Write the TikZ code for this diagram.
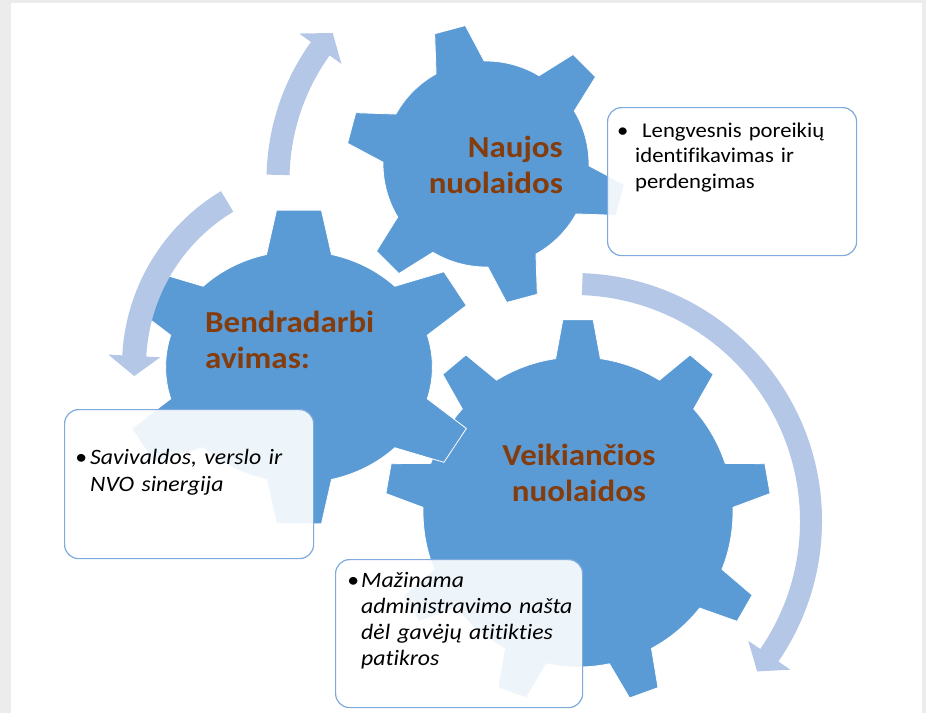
\documentclass[tikz,border=0pt]{standalone}
\usepackage{fontspec}
\setmainfont{Carlito}[FakeStretch=1.08, Ligatures=CommonOff]

\definecolor{gearblue}{HTML}{5B9BD5}
\definecolor{arrowblue}{HTML}{B4C7E7}
\definecolor{labelbrown}{HTML}{843C0C}
\definecolor{boxline}{HTML}{7FAADD}
\definecolor{pagegray}{HTML}{ECECEC}

\tikzset{
  gear/.style={fill=gearblue, draw=white, line width=0.8pt},
  turnarrow/.style={fill=arrowblue},
  infobox/.style={draw=boxline, line width=1.2pt, fill=white, fill opacity=0.9,
    rounded corners=14pt, anchor=north west, inner sep=0pt},
  gearlabel/.style={text=labelbrown, font=\fontsize{30.5}{36.5}\selectfont\bfseries,
    inner sep=0pt, text width=200pt},
  boxtext/.style={inner sep=0pt, text width=230pt, align=left, anchor=base west}
}

% [#1 extra options] #2 centre, #3 teeth, #4 inner r, #5 outer r, #6 first tooth, #7 base half angle, #8 tip half angle
\newcommand{\drawgear}[8][]{%
  \fill[gear, shift={#2}, #1] ({#6+#7}:#4pt)
    \foreach \k in {1,...,#3} {
      arc[start angle={#6+#7+360/#3*(\k-1)}, end angle={#6-#7+360/#3*\k}, radius=#4pt]
      -- ({#6-#8+360/#3*\k}:#5pt) -- ({#6+#8+360/#3*\k}:#5pt) -- ({#6+#7+360/#3*\k}:#4pt)
    } -- cycle;
}

% #1 centre, #2 mid r, #3 half width, #4 start, #5 head base, #6 tip, #7 head half width
\newcommand{\turnarrow}[7]{%
  \fill[turnarrow, shift={#1}] (#4:#2pt+#3pt)
    arc[start angle=#4, end angle=#5, radius=#2pt+#3pt]
    -- (#5:#2pt+#7pt) -- (#6:#2pt) -- (#5:#2pt-#7pt) -- (#5:#2pt-#3pt)
    arc[start angle=#5, end angle=#4, radius=#2pt-#3pt] -- cycle;
}

\begin{document}
\begin{tikzpicture}[x=1pt, y=1pt]
  % Page
  \useasboundingbox (0,0) rectangle (926,-713);
  \fill[pagegray] (0,0) rectangle (926,-713);
  \fill[white] (11,-3) rectangle (922,-713);

  % Gears
  \drawgear{(578,-512)}{9}{155}{193}{90}{8.3}{4.5}
  \drawgear[xscale=1.15]{(299,-367)}{6}{116}{158}{90}{14.1}{7.1}
  \drawgear{(486,-164)}{6}{103}{140}{105}{14}{6.5}

  % Arrows
  \turnarrow{(503,-180)}{225}{11.5}{178.7}{144.3}{139.2}{26}
  \turnarrow{(326,-366)}{192}{12}{121}{177}{183}{26}
  \turnarrow{(574,-521)}{237}{11}{88}{-34.5}{-39.4}{25.5}

  % Boxes
  \node[infobox, minimum width=249pt, minimum height=148pt] (needsbox) at (607,-107) {};
  \node[infobox, minimum width=249pt, minimum height=149pt] (synergybox) at (64,-409) {};
  \node[infobox, minimum width=247pt, minimum height=148pt] (burdenbox) at (335,-559) {};

  % Gear labels
  \node[gearlabel, align=right, anchor=base east] (newlabel) at (563,-157) {Naujos\\nuolaidos};
  \node[gearlabel, align=left, anchor=base west] (cooplabel) at (205,-332) {Bendradarbi\\avimas:};
  \node[gearlabel, align=center, anchor=base] (currentlabel) at (579,-465) {Veikiančios\\nuolaidos};

  % Box texts
  \node[boxtext, font=\fontsize{21}{25.5}\selectfont] (needstext) at (617,-137)
    {\makebox[18pt][l]{\textbullet}\ Lengvesnis poreikių\\\hspace*{18pt}identifikavimas ir\\\hspace*{18pt}perdengimas};
  \node[boxtext, font=\fontsize{22}{27}\selectfont\itshape] (synergytext) at (75,-464)
    {\makebox[15pt][l]{\textbullet}Savivaldos, verslo ir\\\hspace*{15pt}NVO sinergija};
  \node[boxtext, font=\fontsize{22}{26}\selectfont\itshape] (burdentext) at (347,-587)
    {\makebox[14pt][l]{\textbullet}Mažinama\\\hspace*{14pt}administravimo našta\\\hspace*{14pt}dėl gavėjų atitikties\\\hspace*{14pt}patikros};
\end{tikzpicture}
\end{document}
